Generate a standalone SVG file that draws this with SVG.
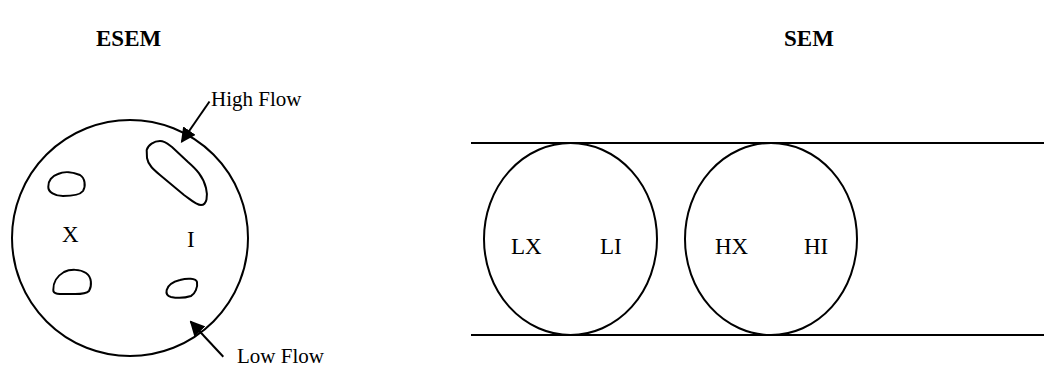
<svg xmlns="http://www.w3.org/2000/svg" width="1044" height="370" viewBox="0 0 1044 370">
<style>
.s{fill:none;stroke:#000;stroke-width:2}
.t{font-family:"Liberation Serif","Times New Roman",serif;font-size:21px;fill:#000}
.m{font-family:"Liberation Serif","Times New Roman",serif;font-size:23px;fill:#000}
.b{font-family:"Liberation Serif","Times New Roman",serif;font-size:23px;font-weight:bold;fill:#000}
</style>
<defs>
<marker id="ah" viewBox="0 0 10 10" refX="9" refY="5" markerWidth="15" markerHeight="15" markerUnits="userSpaceOnUse" orient="auto"><path d="M0,0L10,5L0,10z" fill="#000"/></marker>
</defs>
<text class="b" x="96" y="46">ESEM</text>
<text class="b" x="784" y="46">SEM</text>
<g id="esem">
<ellipse class="s" cx="130" cy="238" rx="118" ry="118"/>
<path class="s" d="M146.7,150 C148,145 154,141 160,141 C165,141 168,144 172,147 L188,162 C196,169 203,176 206,188 C208,196 207,205 201,205 C196,205 190,199 184,195 L160,175 C154,170 148,165 147,158 Z"/>
<path class="s" d="M48.3,186.7 C48,181 52,176 58,174 C64,171 73,172 80,175 C85,178 86,186 83,191 C80,195 70,196 63,196 C55,196 48,192 48.3,186.7 Z"/>
<path class="s" d="M53.3,290 C53,283 57,276 64,272 C70,269 80,269 86,273 C92,277 92,286 89,291 C85,295 76,294 70,294 C62,294 53,295 53.3,290 Z"/>
<path class="s" d="M166.7,290 C168,285 172,282 180,280 C187,278 196,278 197,282 C198,287 195,294 191,296 C185,298 176,298 171,297 C167,296 166,293 166.7,290 Z"/>
<text class="m" x="62" y="242">X</text>
<text class="m" x="187" y="247">I</text>
</g>
<g id="labels">
<text class="t" x="211" y="106">High Flow</text>
<text class="t" x="237" y="363">Low Flow</text>
</g>
<g id="sem">
<line class="s" x1="471" y1="143" x2="1044" y2="143"/>
<line class="s" x1="471" y1="335" x2="1044" y2="335"/>
</g>
<g id="low">
<ellipse class="s" cx="570.5" cy="239" rx="86.5" ry="96"/>
<text class="m" x="511" y="254">LX</text>
<text class="m" x="600" y="254">LI</text>
</g>
<g id="high">
<ellipse class="s" cx="771" cy="239" rx="86" ry="96"/>
<text class="m" x="715" y="254">HX</text>
<text class="m" x="804" y="254">HI</text>
</g>
<g id="connectors">
<line class="s" x1="209.5" y1="101.5" x2="181.7" y2="141.7" marker-end="url(#ah)"/>
<line class="s" x1="223.3" y1="356.7" x2="190.7" y2="321.7" marker-end="url(#ah)"/>
</g>
</svg>
